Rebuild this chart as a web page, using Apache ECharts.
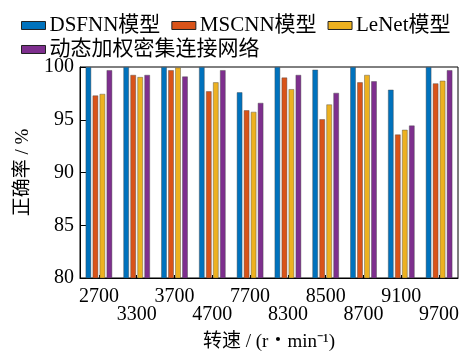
<!DOCTYPE html>
<html><head><meta charset="utf-8">
<script src="https://cdn.jsdelivr.net/npm/echarts@6/dist/echarts.min.js"></script>
<style>html,body{margin:0;padding:0;background:#fff}#c{width:462px;height:351px}</style>
</head><body><div id="c"></div>
<script>
const categories = ['2700','3300','3700','4700','7700','8300','8500','8700','9100','9700'];
const seriesNames = ['DSFNN模型','MSCNN模型','LeNet模型','动态加权密集连接网络'];
const dsfnn = [100, 100, 100, 100, 97.6, 100, 99.75, 100, 97.85, 100];
const mscnn = [97.3, 99.25, 99.7, 97.7, 95.9, 99.0, 95.05, 98.55, 93.6, 98.45];
const lenet = [97.45, 99.05, 99.95, 98.55, 95.75, 97.9, 96.45, 99.25, 94.05, 98.7];
const dwdn  = [99.7, 99.25, 99.1, 99.7, 96.6, 99.25, 97.55, 98.65, 94.45, 99.7];
const yTicks = [80, 85, 90, 95, 100];
const colors = ['#0072BD','#D95319','#EDB120','#7E2F8E'];
const FONT = '"Liberation Serif","Noto Sans CJK SC",serif';

const chart = echarts.init(document.getElementById('c'));
const dataSets = [dsfnn, mscnn, lenet, dwdn];
const legendBase = {
  left: 16, itemWidth: 24, itemHeight: 8, itemGap: 11, icon: 'rect',
  textStyle: {fontFamily: FONT, fontSize: 21, color: '#000', padding: [0,0,0,-1]},
  itemStyle: {borderColor: '#222', borderWidth: 1}
};
chart.setOption({
  animation: false,
  color: colors,
  legend: [
    Object.assign({}, legendBase, {top: 10, data: seriesNames.slice(0, 3)}),
    Object.assign({}, legendBase, {top: 34, data: seriesNames.slice(3)})
  ],
  grid: {left: 80, right: 4, top: 67, bottom: 73, show: true, borderColor: '#000', borderWidth: 1,
         outerBoundsMode: 'none', containLabel: false},
  xAxis: {
    type: 'category', data: categories,
    name: '转速 / (r・min⁻¹)', nameLocation: 'middle', nameGap: 55,
    nameTextStyle: {fontFamily: FONT, fontSize: 19, color: '#000'},
    axisLine: {lineStyle: {color: '#000', width: 1}},
    axisTick: {show: true, inside: true, alignWithLabel: true, length: 3, lineStyle: {color: '#000'}},
    axisLabel: {
      interval: 0, fontFamily: FONT, fontSize: 20, color: '#000', margin: 10, lineHeight: 18,
      formatter: (v, i) => (i % 2 ? '\n' + v : v + '\n')
    }
  },
  yAxis: {
    type: 'value', min: yTicks[0], max: yTicks[yTicks.length-1], interval: 5,
    name: '正确率 / %', nameLocation: 'middle', nameGap: 47,
    nameTextStyle: {fontFamily: FONT, fontSize: 19, color: '#000'},
    axisLine: {show: true, lineStyle: {color: '#000', width: 1}},
    axisTick: {show: true, inside: true, length: 6, lineStyle: {color: '#000'}},
    splitLine: {show: false},
    axisLabel: {fontFamily: FONT, fontSize: 20, color: '#000', margin: 6}
  },
  series: seriesNames.map((n, k) => ({
    name: n, type: 'bar', data: dataSets[k],
    barWidth: 5.6, barGap: '25%',
    itemStyle: {color: colors[k], borderColor: 'rgba(70,70,70,0.7)', borderWidth: 0.6}
  }))
});
</script></body></html>
